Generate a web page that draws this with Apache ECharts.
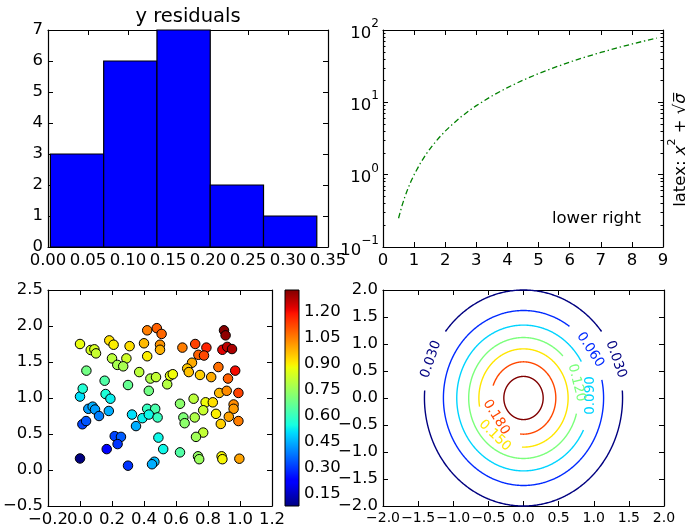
<!DOCTYPE html>
<html><head><meta charset="utf-8">
<script src="https://cdn.jsdelivr.net/npm/echarts@6/dist/echarts.min.js"></script>
<style>html,body{margin:0;padding:0;background:#fff}#c{width:685px;height:526px}</style>
</head><body><div id="c"></div>
<script>
// ---------------- DATA ----------------
// top-left histogram ("y residuals")
const histEdges = [0.003, 0.0696, 0.1362, 0.2028, 0.2694, 0.336];
const histCounts = [3, 6, 7, 2, 1];

// top-right log plot (dash-dot green curve)
const curveX = [0.5, 0.6, 0.7, 0.8, 0.9, 1.0, 1.2, 1.4, 1.6, 1.8, 2.0, 2.25, 2.5, 2.75, 3.0, 3.5, 4.0, 4.5, 5.0, 5.5, 6.0, 6.5, 7.0, 7.5, 8.0, 8.5, 8.8];
const curveY = [0.25, 0.36, 0.49, 0.64, 0.81, 1.0, 1.44, 1.96, 2.56, 3.24, 4.0, 5.06, 6.25, 7.56, 9.0, 12.25, 16.0, 20.25, 25.0, 30.25, 36.0, 42.25, 49.0, 56.25, 64.0, 72.25, 77.44];
const logMinorTicks = [0.2,0.3,0.4,0.5,0.6,0.7,0.8,0.9,2,3,4,5,6,7,8,9,20,30,40,50,60,70,80,90];

// bottom-left scatter with colour bar
const scatterX = [0.00,0.00,0.00,0.017,0.015,0.038,0.04,0.052,0.079,0.094,0.119,0.067,0.09,0.10,0.183,0.21,0.31,0.40,0.42,0.48,
  0.51,0.50,0.50,0.42,0.20,0.29,0.233,0.27,0.37,0.44,0.475,0.154,0.30,0.545,0.5625,0.58,0.43,0.16,0.19,0.18,
  0.325,0.39,0.42,0.47,0.43,0.485,0.35,0.217,0.256,0.235,0.167,0.30,0.49,0.52,0.465,0.45,0.90,0.91,0.64,0.72,
  0.79,0.74,0.775,0.89,0.92,0.95,0.70,0.67,0.68,0.865,0.97,0.75,0.82,0.925,0.87,0.917,0.99,0.71,0.625,0.785,
  0.83,0.96,0.96,0.77,0.85,0.93,0.99,0.88,0.646,0.654,0.717,0.77,0.725,0.625,0.7375,0.745,0.885,0.89,0.996];
const scatterY = [0.16,1.75,1.02,1.13,0.635,0.68,1.38,0.85,0.88,0.84,0.75,1.667,1.676,1.62,1.80,1.74,1.72,1.76,1.94,1.97,
  1.89,1.74,1.67,1.58,1.55,1.55,1.46,1.44,1.36,1.27,1.29,1.24,1.18,1.19,1.31,1.33,1.10,1.055,0.99,0.82,
  0.77,0.72,0.85,0.85,0.77,0.73,0.61,0.47,0.46,0.36,0.29,0.06,0.45,0.29,0.115,0.08,1.94,1.87,1.70,1.75,
  1.70,1.60,1.59,1.67,1.71,1.68,1.49,1.41,1.36,1.43,1.38,1.32,1.29,1.27,1.07,1.10,1.07,0.99,0.92,0.94,
  0.94,0.91,0.85,0.83,0.78,0.74,0.68,0.64,0.73,0.65,0.73,0.52,0.46,0.245,0.19,0.15,0.19,0.15,0.157];
const scatterC = [0.08,0.87,0.51,0.57,0.32,0.34,0.69,0.43,0.45,0.43,0.39,0.84,0.84,0.82,0.92,0.90,0.92,0.97,1.05,1.09,
  1.08,1.02,0.98,0.90,0.80,0.83,0.77,0.77,0.80,0.78,0.81,0.64,0.67,0.79,0.86,0.88,0.69,0.56,0.53,0.45,
  0.51,0.53,0.60,0.63,0.54,0.60,0.45,0.32,0.35,0.30,0.22,0.30,0.54,0.54,0.47,0.45,1.32,1.31,1.05,1.13,
  1.17,1.09,1.12,1.22,1.26,1.28,0.99,0.95,0.96,1.07,1.20,0.94,0.99,1.09,0.97,1.03,1.13,0.80,0.73,0.88,
  0.92,1.03,1.01,0.82,0.90,1.00,1.05,0.94,0.71,0.73,0.78,0.81,0.76,0.64,0.74,0.75,0.89,0.89,1.00];
const colorMin = 0.081, colorMax = 1.327;
const colorbarTicks = [0.15, 0.30, 0.45, 0.60, 0.75, 0.90, 1.05, 1.20];

// bottom-right contour plot (elliptical levels)
const contourLevels = [0.03, 0.06, 0.09, 0.12, 0.15, 0.18, 0.21];
const contourRx = [1.41, 1.14, 0.95, 0.78, 0.635, 0.46, 0.28];
const contourRy = [2.0, 1.62, 1.35, 1.12, 0.91, 0.67, 0.40];
const contourGaps = [[[4, 38], [142, 176]], [[12, 55]], [[-26, 30]], [[-15, 44]], [[190, 268]], [[160, 264]], []];
const labelLevelIdx = [0, 0, 1, 2, 3, 4, 5];
const labelText = ['0.030', '0.030', '0.060', '0.090', '0.120', '0.150', '0.180'];
const labelAngle = [159, 21, 33.5, 2, 14.5, 230, 212];
const labelRotation = [71, -71, -57, 90, -76, -44, -58];

// ---------------- STYLE HELPERS ----------------
const FONT = 'DejaVu Sans';
const FS = 16.5;
function jet(t) {
  const f = (pts) => { for (let k = 1; k < pts.length; k++) { if (t <= pts[k][0]) { const [x0, y0] = pts[k - 1], [x1, y1] = pts[k]; return y0 + (y1 - y0) * (t - x0) / (x1 - x0); } } return pts[pts.length - 1][1]; };
  const r = f([[0, 0], [0.35, 0], [0.66, 1], [0.89, 1], [1, 0.5]]);
  const g = f([[0, 0], [0.125, 0], [0.375, 1], [0.64, 1], [0.91, 0], [1, 0]]);
  const b = f([[0, 0.5], [0.11, 1], [0.34, 1], [0.65, 0], [1, 0]]);
  return 'rgb(' + Math.round(r * 255) + ',' + Math.round(g * 255) + ',' + Math.round(b * 255) + ')';
}
const jetColors = []; for (let k = 0; k <= 64; k++) jetColors.push(jet(k / 64));
const jetStops = jetColors.map((c, k) => ({ offset: k / 64, color: c }));
const levelColor = i => jet(i / (contourLevels.length - 1));

const fixed = d => v => { if (Math.abs(v) < 1e-9) v = 0; return v.toFixed(d).replace('-', '\u2212'); };
const lineSt = { color: '#000', width: 1.2 };

function axis(o) {
  const a = {
    type: 'value', splitLine: { show: false }, splitArea: { show: false },
    axisLine: { show: true, onZero: false, lineStyle: lineSt },
    axisTick: { show: true, inside: true, length: 5, lineStyle: { color: '#000', width: 1 } },
    axisLabel: { show: false, color: '#000', fontFamily: FONT, fontSize: FS, margin: 5, showMinLabel: true, showMaxLabel: true, hideOverlap: false }
  };
  for (const k in o) {
    if (typeof o[k] === 'object' && o[k] !== null && !Array.isArray(o[k]) && a[k]) a[k] = Object.assign({}, a[k], o[k]);
    else a[k] = o[k];
  }
  return a;
}

const logFmt = v => { const e = Math.round(Math.log10(v)); return '{b|10}{s|' + (e < 0 ? '\u2212' : '') + Math.abs(e) + '}'; };
const logRich = { b: { fontFamily: FONT, fontSize: FS, color: '#000', verticalAlign: 'bottom', lineHeight: 24 }, s: { fontFamily: FONT, fontSize: 12, color: '#000', verticalAlign: 'top', lineHeight: 24 } };

const gridBase = { containLabel: false, outerBoundsMode: 'none', show: false };
const option = {
  animation: false,
  backgroundColor: '#fff',
  grid: [
    Object.assign({ left: 48, top: 30, width: 280, height: 217 }, gridBase),
    Object.assign({ left: 383, top: 30, width: 280, height: 217 }, gridBase),
    Object.assign({ left: 48, top: 290, width: 224, height: 216 }, gridBase),
    Object.assign({ left: 383, top: 290, width: 281, height: 216 }, gridBase),
    Object.assign({ left: 285, top: 290, width: 14, height: 216 }, gridBase)
  ],
  xAxis: [
    axis({ gridIndex: 0, position: 'bottom', min: 0, max: 0.35, interval: 0.05, axisLabel: { show: true, formatter: fixed(2) } }),
    axis({ gridIndex: 0, position: 'top', min: 0, max: 0.35, interval: 0.05 }),
    axis({ gridIndex: 1, position: 'bottom', min: 0, max: 9, interval: 1, axisLabel: { show: true } }),
    axis({ gridIndex: 1, position: 'top', min: 0, max: 9, interval: 1 }),
    axis({ gridIndex: 2, position: 'bottom', min: -0.2, max: 1.2, interval: 0.2, axisLabel: { show: true, formatter: fixed(1), showMinLabel: false } }),
    axis({ gridIndex: 2, position: 'top', min: -0.2, max: 1.2, interval: 0.2 }),
    axis({ gridIndex: 3, position: 'bottom', min: -2, max: 2, interval: 0.5, axisLabel: { show: true, formatter: fixed(1), fontSize: 14 } }),
    axis({ gridIndex: 3, position: 'top', min: -2, max: 2, interval: 0.5 }),
    axis({ gridIndex: 4, position: 'bottom', min: 0, max: 1, show: false }),
    // extra bottom axis carrying only the "−0.2" label of the scatter panel (it overlaps "0.0" as in the reference)
    axis({ gridIndex: 2, position: 'bottom', min: -0.2, max: 1.2, axisLine: { show: false }, axisTick: { show: false },
      axisLabel: { show: true, formatter: fixed(1), customValues: [-0.2] } })
  ],
  yAxis: [
    axis({ gridIndex: 0, position: 'left', min: 0, max: 7, interval: 1, axisLabel: { show: true } }),
    axis({ gridIndex: 0, position: 'right', min: 0, max: 7, interval: 1 }),
    axis({ gridIndex: 1, type: 'log', position: 'left', min: 0.1, max: 100, logBase: 10, axisLabel: { show: true, formatter: logFmt, rich: logRich, margin: 4 } }),
    axis({ gridIndex: 1, type: 'log', position: 'right', min: 0.1, max: 100, logBase: 10 }),
    axis({ gridIndex: 1, type: 'log', position: 'left', min: 0.1, max: 100, logBase: 10, axisLine: { show: false }, axisTick: { length: 2.5, customValues: logMinorTicks } }),
    axis({ gridIndex: 1, type: 'log', position: 'right', min: 0.1, max: 100, logBase: 10, axisLine: { show: false }, axisTick: { length: 2.5, customValues: logMinorTicks } }),
    axis({ gridIndex: 2, position: 'left', min: -0.5, max: 2.5, interval: 0.5, axisLabel: { show: true, formatter: fixed(1) } }),
    axis({ gridIndex: 2, position: 'right', min: -0.5, max: 2.5, interval: 0.5 }),
    axis({ gridIndex: 3, position: 'left', min: -2, max: 2, interval: 0.5, axisLabel: { show: true, formatter: fixed(1) } }),
    axis({ gridIndex: 3, position: 'right', min: -2, max: 2, interval: 0.5 }),
    axis({ gridIndex: 4, position: 'right', min: colorMin, max: colorMax, axisLine: { show: false },
      axisTick: { inside: true, length: 4, customValues: colorbarTicks },
      axisLabel: { show: true, formatter: fixed(2), customValues: colorbarTicks } })
  ],
  visualMap: [{
    type: 'continuous', show: false, seriesIndex: 2, dimension: 2,
    min: colorMin, max: colorMax, inRange: { color: jetColors }
  }],
  series: [
    {
      type: 'custom', xAxisIndex: 0, yAxisIndex: 0,
      data: histCounts.map((c, i) => [histEdges[i], histEdges[i + 1], c]),
      encode: { x: [0, 1], y: 2 },
      renderItem: (params, api) => {
        const p0 = api.coord([api.value(0), api.value(2)]);
        const p1 = api.coord([api.value(1), 0]);
        return { type: 'rect', shape: { x: p0[0], y: p0[1], width: p1[0] - p0[0], height: p1[1] - p0[1] },
          style: { fill: '#0000ff', stroke: '#000', lineWidth: 1.2 } };
      }
    },
    {
      type: 'line', xAxisIndex: 2, yAxisIndex: 2, showSymbol: false, symbol: 'none',
      data: curveX.map((x, i) => [x, curveY[i]]),
      lineStyle: { color: '#008000', width: 1.3, type: [5.5, 2.8, 1.4, 2.8] }
    },
    {
      type: 'scatter', xAxisIndex: 4, yAxisIndex: 6, symbol: 'circle', symbolSize: 9.5,
      data: scatterX.map((x, i) => [x, scatterY[i], scatterC[i]]),
      itemStyle: { borderColor: '#000', borderWidth: 1, opacity: 1 }
    },
    {
      type: 'custom', xAxisIndex: 6, yAxisIndex: 8,
      data: contourLevels.map((l, i) => [0, 0, l]),
      renderItem: (params, api) => {
        const i = params.dataIndex;
        const rx = contourRx[i], ry = contourRy[i], gaps = contourGaps[i];
        const inGap = d => gaps.some(([a, b]) => { const dd = (((d - a) % 360) + 360) % 360; return dd > 0 && dd < (b - a); });
        const start = gaps.length ? gaps[0][1] : 0;
        const runs = []; let cur = [];
        for (let k = 0; k <= 360; k += 0.5) {
          const d = start + k;
          if (inGap(d)) { if (cur.length > 1) runs.push(cur); cur = []; }
          else { const r = d * Math.PI / 180; cur.push(api.coord([rx * Math.cos(r), ry * Math.sin(r)])); }
        }
        if (cur.length > 1) runs.push(cur);
        return { type: 'group', children: runs.map(pts => ({ type: 'polyline', shape: { points: pts },
          style: { stroke: levelColor(i), lineWidth: 1.4, fill: null } })) };
      }
    },
    {
      type: 'custom', xAxisIndex: 6, yAxisIndex: 8,
      data: labelText.map((t, j) => [0, 0, j]),
      renderItem: (params, api) => {
        const j = params.dataIndex, li = labelLevelIdx[j];
        const r = labelAngle[j] * Math.PI / 180;
        const p = api.coord([contourRx[li] * Math.cos(r), contourRy[li] * Math.sin(r)]);
        return { type: 'text', x: p[0], y: p[1], rotation: labelRotation[j] * Math.PI / 180,
          style: { text: labelText[j], fill: levelColor(li), fontFamily: FONT, fontSize: 13.5, align: 'center', verticalAlign: 'middle' } };
      }
    },
    {
      type: 'custom', xAxisIndex: 8, yAxisIndex: 10,
      data: [[0.5, 0.7]],
      renderItem: (params, api) => {
        const p0 = api.coord([0, colorMax]), p1 = api.coord([1, colorMin]);
        return { type: 'rect', shape: { x: p0[0], y: p0[1], width: p1[0] - p0[0], height: p1[1] - p0[1] },
          style: { fill: new echarts.graphic.LinearGradient(0, 1, 0, 0, jetStops), stroke: '#000', lineWidth: 1 } };
      }
    }
  ],
  graphic: [
    { type: 'text', x: 188, y: 17, style: { text: 'y residuals', fontFamily: FONT, fontSize: 19.5, fill: '#000', align: 'center', verticalAlign: 'middle' } },
    { type: 'text', x: 641, y: 219, style: { text: 'lower right', fontFamily: FONT, fontSize: FS, fill: '#000', align: 'right', verticalAlign: 'middle' } },
    { type: 'text', x: 678, y: 150, rotation: Math.PI / 2,
      style: { text: '{n|latex: }{i|x}{s|2}{n| + \u221A}{i|\u03C3\u0305}', align: 'center', verticalAlign: 'middle',
        rich: { n: { fontFamily: FONT, fontSize: FS, fill: '#000', verticalAlign: 'bottom', lineHeight: 22 },
          i: { fontFamily: FONT, fontSize: FS, fontStyle: 'italic', fill: '#000', verticalAlign: 'bottom', lineHeight: 22 },
          s: { fontFamily: FONT, fontSize: 11, fill: '#000', verticalAlign: 'top', lineHeight: 22 } } } }
  ]
};
const chart = echarts.init(document.getElementById('c'), null, { renderer: 'canvas' });
chart.setOption(option);
</script>
</body></html>
